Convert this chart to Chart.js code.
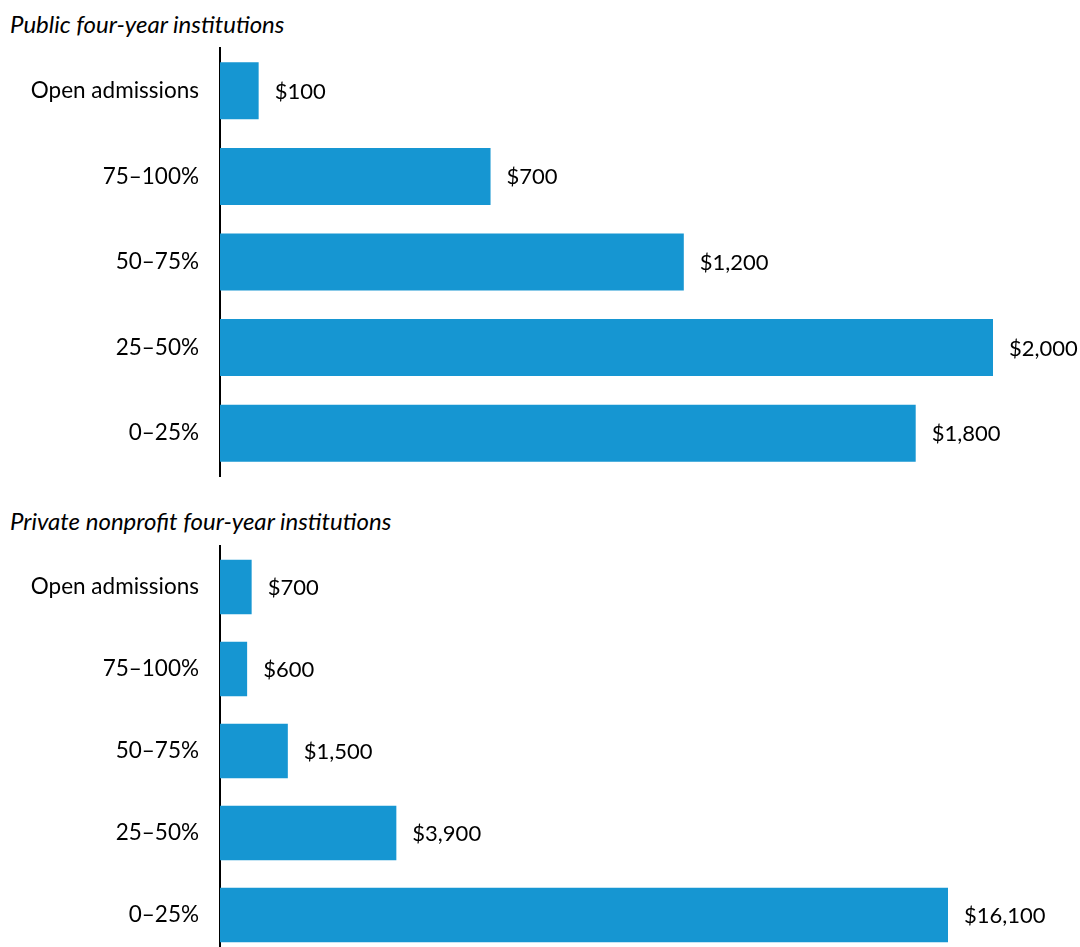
<!DOCTYPE html>
<html>
<head>
<meta charset="utf-8">
<script src="https://cdn.jsdelivr.net/npm/chart.js@4.4.1/dist/chart.umd.min.js"></script>
<style>
    html, body { margin: 0; padding: 0; background: #fff; overflow: hidden; }
    body { width: 1080px; height: 947px; position: relative; font-family: Lato, sans-serif; }
    .title { position: absolute; left: 10px; font-style: italic; font-size: 24px; color: #000; line-height: 1; white-space: nowrap; }
    canvas { position: absolute; left: 0; }
</style>
</head>
<body>
<div class="title" style="top: 12px;">Public four-year institutions</div>
<canvas id="publicChart" width="1080" height="480" style="top: 0;"></canvas>
<div class="title" style="top: 509px;">Private nonprofit four-year institutions</div>
<canvas id="privateChart" width="1080" height="460" style="top: 500px;"></canvas>

<script>
const categories = ['Open admissions', '75–100%', '50–75%', '25–50%', '0–25%'];
const publicValues = [100, 700, 1200, 2000, 1800];
const privateValues = [700, 600, 1500, 3900, 16100];

const BLUE = '#1696d2';
const FONT = 'Lato, sans-serif';

// dollar labels just past the end of each bar
const valueLabels = {
    id: 'valueLabels',
    afterDatasetsDraw(chart) {
        const ctx = chart.ctx;
        const meta = chart.getDatasetMeta(0);
        ctx.save();
        ctx.font = '22px ' + FONT;
        ctx.fillStyle = '#000';
        ctx.textAlign = 'left';
        ctx.textBaseline = 'middle';
        meta.data.forEach((bar, i) => {
            const v = chart.data.datasets[0].data[i];
            ctx.fillText('$' + v.toLocaleString('en-US'), bar.x + 16, bar.y + 1);
        });
        ctx.restore();
    }
};

function makeChart(id, values, padTop, padRight) {
    const ctx = document.getElementById(id).getContext('2d');
    return new Chart(ctx, {
        type: 'bar',
        data: {
            labels: categories,
            datasets: [{
                data: values,
                backgroundColor: BLUE,
                borderWidth: 0,
                barPercentage: 0.666,
                categoryPercentage: 1,
                clip: false
            }]
        },
        options: {
            indexAxis: 'y',
            responsive: false,
            animation: false,
            layout: { padding: { top: padTop, bottom: 4, left: 0, right: padRight } },
            plugins: {
                legend: { display: false },
                tooltip: { enabled: false }
            },
            scales: {
                x: {
                    display: false,
                    min: 0,
                    max: Math.max(...values)
                },
                y: {
                    grid: { display: false, drawTicks: false },
                    border: { display: true, color: '#000', width: 2 },
                    ticks: {
                        color: '#000',
                        padding: 21,
                        font: { family: FONT, size: 22.5 }
                    },
                    afterFit: (scale) => {
                        // fixed label column; don't let tick padding shrink the plot vertically
                        scale.width = 220;
                        scale.paddingTop = 0;
                        scale.paddingBottom = 0;
                    }
                }
            }
        },
        plugins: [valueLabels]
    });
}

makeChart('publicChart', publicValues, 48, 87);
makeChart('privateChart', privateValues, 46, 132);
</script>
</body>
</html>
